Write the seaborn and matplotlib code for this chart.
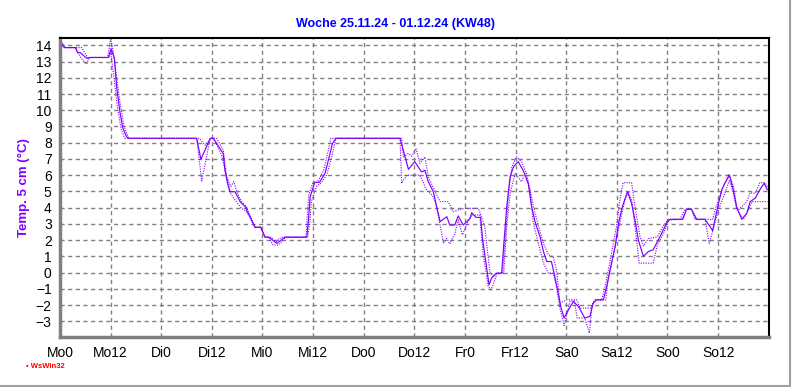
import numpy as np
import pandas as pd
import matplotlib
matplotlib.use("Agg")
import matplotlib.pyplot as plt
from matplotlib.ticker import MultipleLocator, FixedLocator
import seaborn as sns

# Data: hours since Monday 0:00, temperature 5 cm (deg C)
mean_h = [0, 1.2, 3.7, 4.2, 4.8, 6.3, 7.1, 11.5, 12.1, 12.9, 13.4, 14.2, 14.9, 15.8, 16.3,
          32.4, 33.4, 35.6, 36.3, 38.7, 39.1, 39.7, 40.3, 41.5, 42.7, 43.9, 45.0, 46.2, 47.6,
          48.6, 49.5, 51.4, 53.3, 58.5, 58.9, 59.3, 60.4, 61.5, 62.8, 63.8, 64.6, 65.4,
          80.6, 81.8, 82.6, 84.1, 85.7, 86.5, 87.3, 88.5, 89.3, 90.1, 91.7, 92.4, 93.6, 94.4,
          95.6, 97.2, 97.6, 98.6, 99.7, 100.2, 101.1, 101.7, 102.3, 103.4, 104.7, 105.1, 105.9,
          106.7, 107.5, 108.6, 109.8, 111.0, 111.8, 112.6, 113.8, 114.6, 115.4, 116.5, 117.3,
          118.1, 118.7, 119.5, 120.5, 121.7, 122.9, 124.4, 125.6, 126.4, 127.2, 128.8, 129.6,
          130.4, 131.6, 132.4, 133.2, 134.5, 135.5, 136.3, 137.1, 138.3, 139.5, 140.6, 142.2,
          143.8, 144.6, 147.6, 148.5, 149.7, 150.9, 152.9, 154.1, 154.7, 156.1, 156.9, 157.6,
          158.7, 159.6, 160.4, 161.6, 162.8, 163.6, 164.8, 165.9, 166.9, 167.7]
mean_v = [14.3, 13.86, 13.86, 13.55, 13.55, 13.2, 13.25, 13.25, 13.8, 13.2, 11.5, 9.9, 8.9, 8.36, 8.27,
          8.27, 6.97, 8.27, 8.27, 7.34, 6.3, 5.5, 4.98, 4.98, 4.37, 4.06, 3.44, 2.79, 2.79,
          2.18, 2.18, 1.8, 2.18, 2.18, 3.24, 4.67, 5.56, 5.56, 6.1, 7.1, 7.96, 8.27,
          8.27, 7.13, 6.36, 6.83, 6.2, 6.3, 5.6, 4.98, 4.06, 3.14, 3.44, 2.93, 2.93, 3.49,
          2.93, 3.34, 3.69, 3.4, 3.4, 2.0, 0.37, -0.76, -0.34, -0.04, -0.04, 1.4, 4.06,
          5.9, 6.52, 6.83, 6.3, 5.5, 4.06, 3.14, 2.2, 1.3, 0.68, 0.68, -0.25,
          -1.27, -2.09, -2.8, -2.3, -1.78, -2.09, -2.8, -2.7, -1.88, -1.68, -1.68, -0.86,
          0.17, 1.6, 3.04, 3.96, 4.98, 4.27, 3.24, 2.0, 1.0, 1.3, 1.4, 2.2,
          3.04, 3.28, 3.28, 3.9, 3.9, 3.28, 3.28, 2.83, 2.58, 4.27, 5.1, 5.5,
          6.0, 5.1, 4.06, 3.28, 3.65, 4.37, 4.58, 5.1, 5.5, 5.1]

max_h = [0, 0.8, 5.1, 6.7, 7.3, 11.3, 12.0, 12.5, 13.3, 14.2, 15.2, 16.3, 33.0, 34.4, 35.8,
         37.1, 38.7, 39.5, 40.5, 41.2, 41.9, 43.0, 44.2, 45.2, 46.3, 47.6, 48.6, 50.0, 51.2,
         52.5, 58.3, 58.6, 59.0, 60.0, 61.0, 62.5, 63.4, 64.2, 81.0, 81.4, 82.6, 83.4, 84.4,
         85.3, 86.5, 87.3, 89.3, 90.1, 92.0, 93.2, 94.4, 96.0, 99.2, 100.7, 101.3, 101.9,
         102.7, 103.5, 104.9, 105.5, 106.3, 107.1, 108.2, 109.4, 110.6, 111.5, 112.6, 114.6,
         115.8, 116.9, 117.7, 118.5, 120.1, 122.5, 123.3, 125.8, 126.8, 128.4, 129.2, 130.3,
         131.9, 132.7, 133.5, 135.5, 136.3, 137.5, 138.3, 139.5, 141.6, 143.1, 144.2,
         147.0, 148.1, 149.7, 150.5, 154.7, 155.3, 156.9, 158.5, 159.7, 160.4, 161.0, 162.8,
         163.6, 164.8, 165.9, 167.1, 167.7]
max_v = [14.4, 13.86, 13.86, 13.2, 13.25, 13.25, 14.4, 13.8, 12.3, 10.5, 9.0, 8.27, 8.27, 7.85, 8.27,
         8.27, 7.55, 5.9, 5.3, 5.6, 4.98, 4.4, 4.06, 3.44, 2.79, 2.79, 2.18, 2.18, 1.9,
         2.18, 2.18, 3.5, 4.8, 5.56, 5.56, 6.3, 7.3, 8.27, 8.27, 7.13, 7.34, 7.17, 7.65,
         6.73, 7.13, 5.9, 4.78, 4.37, 4.37, 3.75, 3.86, 3.96, 3.96, 2.83, 1.4, 0.06,
         -0.25, -0.04, -0.04, 2.0, 4.78, 6.52, 7.13, 6.83, 6.1, 5.0, 3.65, 1.8,
         1.09, 0.98, 0.17, -1.88, -1.68, -1.68, -2.19, -2.19, -1.68, -1.68, -0.86, 0.58,
         2.83, 4.47, 5.54, 5.54, 4.06, 2.2, 1.64, 2.1, 2.2, 2.93, 3.28,
         3.28, 3.9, 3.9, 3.28, 3.28, 3.86, 5.1, 6.07, 5.29, 3.96, 3.9, 4.37,
         4.92, 4.88, 5.54, 5.54, 5.3]

min_h = [0, 1.0, 3.5, 5.0, 6.3, 7.0, 11.5, 12.0, 12.8, 13.6, 14.5, 15.4, 32.4, 33.6, 35.6,
         36.5, 38.3, 39.5, 40.4, 41.5, 43.0, 44.0, 45.0, 46.2, 47.6, 48.6, 49.5, 50.5, 51.8,
         53.5, 58.7, 59.2, 59.6, 60.8, 62.0, 63.2, 64.3, 65.4, 80.6, 81.0, 82.2, 85.3, 86.9,
         88.5, 89.3, 90.1, 90.9, 91.7, 92.4, 93.6, 94.4, 95.4, 96.5, 97.6, 99.5, 100.3, 101.5,
         102.2, 103.1, 103.6, 105.2, 105.9, 106.7, 107.9, 109.4, 110.2, 111.4, 112.2, 113.4,
         114.6, 115.8, 116.9, 117.7, 118.4, 119.5, 120.9, 121.9, 122.6, 124.4, 125.5, 126.1,
         126.8, 129.4, 129.9, 131.1, 132.7, 133.9, 134.7, 135.5, 136.3, 137.3, 140.6, 141.6,
         143.1, 144.2, 147.6, 148.5, 149.7, 150.9, 152.9, 153.9, 154.7, 156.1, 157.6, 158.7,
         159.6, 160.4, 162.0, 163.2, 164.0, 167.7]
min_v = [14.1, 13.86, 13.86, 13.2, 12.85, 13.25, 13.25, 13.6, 12.0, 10.2, 8.8, 8.27, 8.27, 5.64, 8.27,
         8.27, 7.24, 5.9, 4.88, 4.47, 3.96, 3.8, 3.44, 2.79, 2.79, 2.18, 2.18, 1.7, 1.7,
         2.18, 2.18, 3.0, 4.4, 5.3, 5.56, 6.0, 7.0, 8.27, 8.27, 5.5, 6.0, 6.0, 5.09,
         4.67, 4.0, 2.93, 1.8, 2.1, 1.76, 2.42, 3.24, 2.32, 3.04, 3.55, 3.55, 1.19, -0.86,
         -1.06, -0.45, -0.04, -0.04, 2.83, 4.88, 6.1, 5.6, 6.1, 5.09, 3.04, 1.8,
         0.58, -0.04, -0.04, -0.86, -2.09, -3.26, -1.78, -1.72, -2.8, -2.8, -3.73, -1.99,
         -1.68, -1.68, -0.45, 0.98, 3.04, 4.47, 4.98, 4.5, 2.83, 0.58, 0.58, 1.7,
         2.42, 3.24, 3.28, 3.9, 3.9, 3.28, 3.28, 1.8, 2.52, 3.86, 4.88, 5.7,
         4.88, 3.9, 3.28, 3.86, 4.37, 4.37]

tick_hours = [0, 12, 24, 36, 48, 60, 72, 84, 96, 108, 120, 132, 144, 156]
tick_labels = ["Mo0", "Mo12", "Di0", "Di12", "Mi0", "Mi12", "Do0", "Do12",
               "Fr0", "Fr12", "Sa0", "Sa12", "So0", "So12"]

LINE = "#8000ff"
GRID = "#808080"

sns.set_style("white")
plt.rcParams["font.family"] = ["Liberation Sans", "DejaVu Sans"]

fig = plt.figure(figsize=(7.92, 3.87), dpi=100)
ax = fig.add_axes([60 / 792, 1 - 336.7 / 387, 708.7 / 792, 298.7 / 387])

# min, max (dotted) and mean (solid)
for h, v, style, lw in [(min_h, min_v, (0, (1, 1.2)), 0.8),
                        (max_h, max_v, (0, (1, 1.2)), 0.8),
                        (mean_h, mean_v, "-", 0.85)]:
    df = pd.DataFrame({"h": h, "v": v})
    sns.lineplot(data=df, x="h", y="v", ax=ax, color=LINE, linewidth=lw,
                 linestyle=style, sort=False, estimator=None)

ax.set_xlim(0, 168)
ax.set_ylim(-3.95, 14.45)

ax.xaxis.set_major_locator(FixedLocator(tick_hours))
ax.set_xticklabels(tick_labels)
ax.xaxis.set_minor_locator(MultipleLocator(3))
ax.yaxis.set_major_locator(FixedLocator(list(range(-3, 15))))
ax.yaxis.set_minor_locator(MultipleLocator(0.5))

ax.grid(True, which="major", color=GRID, linestyle=(0, (3, 2.5)), linewidth=1.0)
ax.set_axisbelow(True)

ax.tick_params(axis="both", which="major", labelsize=10, colors=GRID, labelcolor="black",
               width=1, length=4, direction="out", pad=2)
ax.tick_params(axis="x", which="major", length=5, pad=2)
ax.tick_params(axis="both", which="minor", colors=GRID, width=1, length=2, direction="out")

for side in ["left", "bottom"]:
    ax.spines[side].set_color(GRID)
    ax.spines[side].set_linewidth(2.5)
for side in ["top", "right"]:
    ax.spines[side].set_color("black")
    ax.spines[side].set_linewidth(1.5)

ax.set_xlabel("")
ax.set_ylabel("Temp. 5 cm (°C)", color=LINE, fontsize=9.5, fontweight="bold")
ax.yaxis.set_label_coords(-30 / 708.7, 0.5)

fig.text(0.5, 1 - 24 / 387, "Woche 25.11.24 - 01.12.24 (KW48)", ha="center", va="center",
         color="#0000ff", fontsize=9, fontweight="bold")
fig.text(26 / 792, 1 - 367 / 387, "\u2022 WsWin32", ha="left", va="center",
         color="red", fontsize=5.5, fontweight="bold")

# window frame at right / bottom
fig.add_artist(plt.Line2D([0, 790 / 792], [1 - 386 / 387] * 2, transform=fig.transFigure,
                          color="#a0a0a0", linewidth=1.5))
fig.add_artist(plt.Line2D([790 / 792] * 2, [1 - 386 / 387, 1], transform=fig.transFigure,
                          color="#a0a0a0", linewidth=1.5))

fig.savefig("out.png", dpi=100)
